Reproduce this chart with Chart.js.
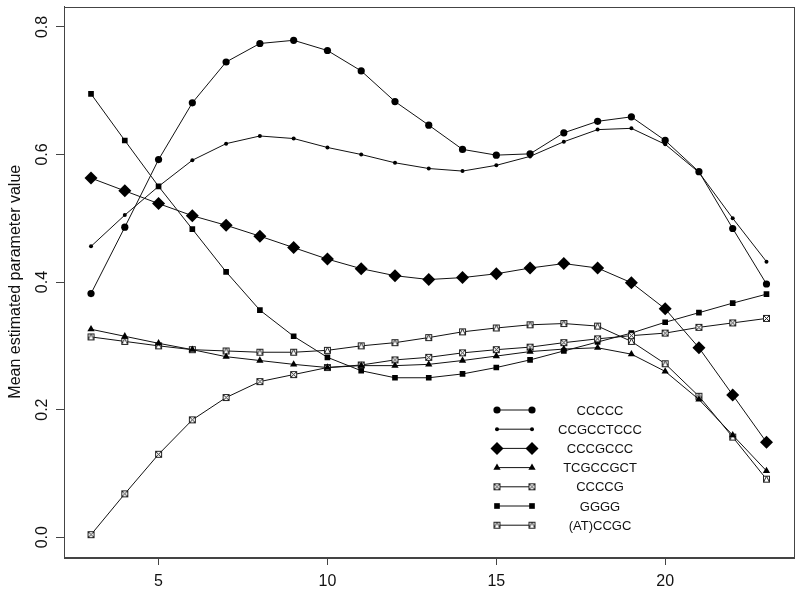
<!DOCTYPE html>
<html>
<head>
<meta charset="utf-8">
<script src="https://cdn.jsdelivr.net/npm/chart.js@4.4.1/dist/chart.umd.min.js"></script>
<style>
  html, body { margin: 0; padding: 0; background: #fff; }
  #wrap { width: 800px; height: 592px; }
</style>
</head>
<body>
<div id="wrap"><canvas id="grafico"></canvas></div>
<script>
// valores
const xs = [3, 4, 5, 6, 7, 8, 9, 10, 11, 12, 13, 14, 15, 16, 17, 18, 19, 20, 21, 22, 23];
const xTicks = [5, 10, 15, 20];
const yTicks = [0, 0.2, 0.4, 0.6, 0.8];
const yTickLabels = ['0.0', '0.2', '0.4', '0.6', '0.8'];
const yTitle = 'Mean estimated parameter value';

const nombres = ['CCCCC', 'CCGCCTCCC', 'CCCGCCC', 'TCGCCGCT', 'CCCCG', 'GGGG', '(AT)CCGC'];

const ccccc     = [0.382, 0.486, 0.592, 0.681, 0.745, 0.774, 0.779, 0.763, 0.731, 0.683, 0.646, 0.608, 0.599, 0.601, 0.634, 0.652, 0.659, 0.622, 0.573, 0.484, 0.397];
const ccgcctccc = [0.456, 0.505, 0.550, 0.591, 0.617, 0.629, 0.625, 0.611, 0.600, 0.587, 0.578, 0.574, 0.583, 0.597, 0.620, 0.639, 0.641, 0.616, 0.572, 0.500, 0.432];
const cccgccc   = [0.563, 0.543, 0.523, 0.504, 0.489, 0.472, 0.454, 0.436, 0.421, 0.410, 0.404, 0.407, 0.413, 0.422, 0.429, 0.422, 0.399, 0.358, 0.297, 0.223, 0.149];
const tcgccgct  = [0.326, 0.315, 0.304, 0.294, 0.283, 0.277, 0.271, 0.266, 0.269, 0.269, 0.271, 0.277, 0.284, 0.291, 0.295, 0.297, 0.287, 0.260, 0.216, 0.160, 0.104];
const ccccg     = [0.004, 0.068, 0.130, 0.184, 0.219, 0.244, 0.255, 0.266, 0.270, 0.278, 0.282, 0.289, 0.294, 0.298, 0.305, 0.311, 0.316, 0.320, 0.329, 0.336, 0.343];
const gggg      = [0.695, 0.622, 0.550, 0.483, 0.416, 0.356, 0.315, 0.282, 0.261, 0.250, 0.250, 0.256, 0.266, 0.278, 0.292, 0.306, 0.320, 0.337, 0.352, 0.367, 0.381];
const atccgc    = [0.314, 0.307, 0.300, 0.294, 0.292, 0.290, 0.290, 0.293, 0.300, 0.305, 0.313, 0.322, 0.328, 0.333, 0.335, 0.331, 0.307, 0.272, 0.221, 0.157, 0.091];

const series = [ccccc, ccgcctccc, cccgccc, tcgccgct, ccccg, gggg, atccgc];

const FUENTE = '"Liberation Sans", Arial, Helvetica, sans-serif';
const NEGRO = '#111';

// marcadores con dibujo (cuadrado con X, cuadrado con triangulo)
function marcador(tipo) {
  const c = document.createElement('canvas');
  c.width = 9; c.height = 9;
  const g = c.getContext('2d');
  g.fillStyle = '#fff';
  g.fillRect(1.5, 1.5, 6, 6);
  g.strokeStyle = '#222';
  g.lineWidth = 1;
  g.strokeRect(1.5, 1.5, 6, 6);
  g.beginPath();
  if (tipo === 'x') {
    g.moveTo(1.5, 1.5); g.lineTo(7.5, 7.5);
    g.moveTo(7.5, 1.5); g.lineTo(1.5, 7.5);
  } else {
    g.moveTo(4.5, 1.5); g.lineTo(1.5, 7.5);
    g.moveTo(4.5, 1.5); g.lineTo(7.5, 7.5);
  }
  g.stroke();
  return c;
}

const estilos = [
  { pointStyle: 'circle', radius: 3.6 },
  { pointStyle: 'circle', radius: 2 },
  { pointStyle: 'rectRot', radius: 6.5 },
  { pointStyle: 'triangle', radius: 4.2 },
  { pointStyle: marcador('x'), radius: 4 },
  { pointStyle: 'rect', radius: 4 },
  { pointStyle: marcador('t'), radius: 4 },
];

const datasets = series.map((vals, i) => ({
  label: nombres[i],
  data: xs.map((x, j) => ({ x: x, y: vals[j] })),
  borderColor: NEGRO,
  borderWidth: 1,
  backgroundColor: '#000',
  pointBackgroundColor: '#000',
  pointBorderColor: '#000',
  pointBorderWidth: 0,
  pointStyle: estilos[i].pointStyle,
  pointRadius: estilos[i].radius,
  pointHoverRadius: estilos[i].radius,
  tension: 0,
  fill: false,
}));

// marco, etiquetas del eje y, titulo y leyenda
const extras = {
  id: 'extras',
  afterDraw(chart) {
    const ctx = chart.ctx;
    const a = chart.chartArea;
    const y = chart.scales.y;
    ctx.save();
    ctx.strokeStyle = '#444';
    ctx.lineWidth = 1;
    ctx.strokeRect(Math.round(a.left) + 0.5, Math.round(a.top) + 0.5,
      Math.round(a.right - a.left), Math.round(a.bottom - a.top));

    ctx.fillStyle = NEGRO;
    ctx.font = '16px ' + FUENTE;
    ctx.textAlign = 'center';
    ctx.textBaseline = 'middle';
    yTicks.forEach((v, i) => {
      ctx.save();
      ctx.translate(43, y.getPixelForValue(v));
      ctx.rotate(-Math.PI / 2);
      ctx.fillText(yTickLabels[i], 0, 0);
      ctx.restore();
    });
    ctx.save();
    ctx.translate(16, (a.top + a.bottom) / 2);
    ctx.rotate(-Math.PI / 2);
    ctx.fillText(yTitle, 0, 0);
    ctx.restore();

    // leyenda
    ctx.font = '13px ' + FUENTE;
    chart.data.datasets.forEach((ds, i) => {
      const fy = 410 + i * 19.2;
      ctx.strokeStyle = NEGRO;
      ctx.lineWidth = 1;
      ctx.beginPath();
      ctx.moveTo(497, fy);
      ctx.lineTo(532, fy);
      ctx.stroke();
      const op = { pointStyle: ds.pointStyle, radius: ds.pointRadius, rotation: 0, borderWidth: 0 };
      ctx.fillStyle = '#000';
      ctx.strokeStyle = '#000';
      Chart.helpers.drawPoint(ctx, op, 497, fy);
      Chart.helpers.drawPoint(ctx, op, 532, fy);
      ctx.fillStyle = NEGRO;
      ctx.fillText(ds.label, 600, fy + 1);
    });
    ctx.restore();
  }
};

new Chart(document.getElementById('grafico').getContext('2d'), {
  type: 'line',
  data: { datasets: datasets },
  options: {
    responsive: true,
    maintainAspectRatio: false,
    animation: false,
    layout: { padding: { top: 3, right: 5, left: 0, bottom: 0 } },
    plugins: {
      legend: { display: false },
      tooltip: { enabled: false },
    },
    scales: {
      x: {
        type: 'linear',
        min: 2.2,
        max: 23.8,
        afterBuildTicks: s => { s.ticks = xTicks.map(v => ({ value: v })); },
        afterFit: s => { s.height = 35; },
        grid: { drawOnChartArea: false, drawTicks: true, tickLength: 8, color: '#444' },
        border: { display: true, color: '#444' },
        ticks: { color: NEGRO, font: { size: 16, family: FUENTE }, padding: 7, maxRotation: 0 },
      },
      y: {
        type: 'linear',
        min: -0.031,
        max: 0.832,
        afterBuildTicks: s => { s.ticks = yTicks.map(v => ({ value: v })); },
        afterFit: s => { s.width = 64; },
        grid: { drawOnChartArea: false, drawTicks: true, tickLength: 8, color: '#444' },
        border: { display: true, color: '#444' },
        ticks: { display: false },
      },
    },
  },
  plugins: [extras],
});
</script>
</body>
</html>
